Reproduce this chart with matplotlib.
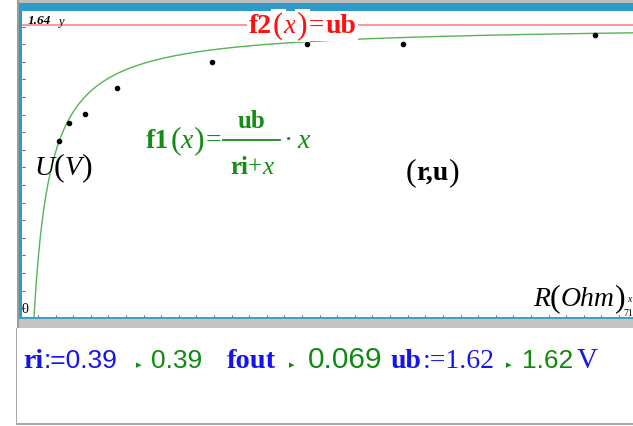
import numpy as np
import matplotlib
matplotlib.use("Agg")
import matplotlib.pyplot as plt
from matplotlib.patches import Rectangle
from matplotlib.lines import Line2D

# ---------------- data ----------------
r_ohm = [4.08, 5.09, 6.76, 10.1, 20.0, 30.0, 40.0, 60.0]
u_volt = [0.980, 1.078, 1.128, 1.273, 1.417, 1.517, 1.517, 1.566]
ub = 1.62
ri_value = 0.39
fout_value = 0.069
curve_ri = 1.73      # shape of plotted f1 curve as seen on screen
curve_x0 = 1.43
xmin, xmax = 0.125, 64.02
ymin, ymax = 0.0, 1.697
ymax_label = "1.64"
xmax_label = "71.5"
ymin_label = "0"
xtick_step = 1.84
ytick_start, ytick_step = 0.054, 0.0973

# ---------------- figure ----------------
W, H = 633, 426
fig = plt.figure(figsize=(W / 100, H / 100), dpi=100)
fig.patch.set_facecolor("white")
renderer = fig.canvas.get_renderer()

def fx(x):
    return x / W

def fy(y):
    return 1 - y / H

def rect(x0, y0, x1, y1, color, z=1):
    fig.patches.append(Rectangle((fx(x0), fy(y1)), (x1 - x0) / W, (y1 - y0) / H,
                                 transform=fig.transFigure, facecolor=color,
                                 edgecolor="none", zorder=z))

BLUE_BAR = "#2f9bc9"
rect(17, 0, 18.5, 328, "#9a9a9a")
rect(18.5, 0, 633, 3.3, "#bdbdbd")
rect(18.5, 3.3, 633, 11, BLUE_BAR)
rect(18.5, 3.3, 21.5, 318.5, BLUE_BAR)
rect(18.5, 317, 633, 319, "#3aa0cc")
rect(18.5, 319, 633, 328, "#c4c4c4")
rect(15.5, 328, 17, 424.5, "#a8a8a8")
rect(15.5, 423, 633, 424.5, "#a8a8a8")

# ---------------- axes ----------------
ax = fig.add_axes([fx(21.5), fy(318), (633 - 21.5) / W, (318 - 11) / H])
for s in ax.spines.values():
    s.set_visible(False)
ax.set_xticks(np.arange(1, 40) * xtick_step)
ax.set_yticks(np.arange(ytick_start, 1.62, ytick_step))
ax.tick_params(direction="in", length=2.5, width=0.8, color="#666666",
               labelbottom=False, labelleft=False)

ax.axhline(ub, color="#ff7a7a", lw=1.1, zorder=1)
xs = np.linspace(curve_x0, xmax + 1, 800)
ys = ub * (xs - curve_x0) / (curve_ri + xs - curve_x0)
ax.plot(xs, ys, color="#55b455", lw=1.0, zorder=2)
ax.plot(r_ohm, u_volt, "o", ms=3, color="black", zorder=3)
ax.set_xlim(xmin, xmax)
ax.set_ylim(ymin, ymax)

# ---------------- text helpers ----------------
SERIF = "Liberation Serif"
SANS = "Liberation Sans"

def runs(x, yb, items, align="left", bg=False):
    texts, widths = [], []
    for s, kw, g in items:
        extra = {}
        if bg:
            extra["bbox"] = dict(facecolor="white", edgecolor="none", pad=1.5)
        t = fig.text(0, fy(yb), s, ha="left", va="baseline", zorder=5, **kw, **extra)
        widths.append(t.get_window_extent(renderer).width + g)
        texts.append(t)
    total = sum(widths)
    if align == "center":
        x -= total / 2
    for t, w in zip(texts, widths):
        t.set_x(fx(x))
        x += w
    return x

def F(size, color, weight="normal", style="normal", family=SERIF):
    return dict(fontsize=size, color=color, fontweight=weight, fontstyle=style,
                family=family)

RED = "#ff1010"
GRN = "#168c16"
BLK = "black"

# f2(x)=ub
runs(249, 33, [("f2", F(20, RED, "bold"), 1),
               ("(", F(23, RED), 0),
               ("x", F(20, RED, style="italic"), 1),
               (")", F(23, RED), 1),
               ("=", F(20, RED), 1),
               ("ub", F(20, RED, "bold"), 0)], bg=True)

# f1(x)= ub/(ri+x) . x
xe = runs(146, 148, [("f1", F(20, GRN, "bold"), 1),
                     ("(", F(23, GRN), 0),
                     ("x", F(20, GRN, style="italic"), 1),
                     (")", F(23, GRN), 1),
                     ("=", F(20, GRN), 2)])
bar0, bar1 = xe, xe + 57
fig.lines.append(Line2D([fx(bar0), fx(bar1)], [fy(139.5), fy(139.5)],
                        transform=fig.transFigure, color=GRN, lw=1.3))
cx = (bar0 + bar1) / 2
runs(cx, 128, [("ub", F(18, GRN, "bold"), 0)], align="center")
runs(cx, 174, [("ri", F(18, GRN, "bold"), 0),
               ("+", F(18, GRN), 0),
               ("x", F(18, GRN, style="italic"), 0)], align="center")
runs(bar1 + 4, 148, [("·", F(20, GRN), 4), ("x", F(20, GRN, style="italic"), 0)])

# axis labels
runs(34, 175, [("U", F(20, BLK, style="italic"), 0),
               ("(", F(23, BLK), 0),
               ("V", F(20, BLK, style="italic"), 0),
               (")", F(23, BLK), 0)])
runs(406, 180, [("(", F(23, BLK), 0),
                ("r,u", F(20, BLK, "bold"), 0),
                (")", F(23, BLK), 0)])
runs(533, 306, [("R", F(20, BLK, style="italic"), 0),
                ("(", F(23, BLK), 0),
                ("Ohm", F(20, BLK, style="italic"), 0),
                (")", F(23, BLK), 0)])

# window labels
runs(28, 24.5, [(ymax_label, F(9.5, BLK, "bold", "italic"), 7),
                ("y", F(9, BLK, style="italic"), 0)])
runs(22, 313, [(ymin_label, F(10, BLK), 0)])
runs(623, 316, [(xmax_label[:3], F(7, BLK), 0)])
runs(627, 302, [("x", F(7, BLK, style="italic"), 0)])

# bottom calculator line
BLU = "#1414f0"
G2 = "#0f8a0f"
TRI = dict(fontsize=8, color=G2, family="DejaVu Sans")
yb = 368
runs(23, yb, [("ri", F(20, BLU, "bold"), 1),
              (f":={ri_value}", F(19, BLU, family=SANS), 0)])
runs(136, yb, [("▸", TRI, 0)])
runs(151, yb, [(f"{ri_value}", F(19, G2, family=SANS), 0)])
runs(227, yb, [("fout", F(20.5, BLU, "bold"), 0)])
runs(289, yb, [("▸", TRI, 0)])
runs(308, yb, [(f"{fout_value}", F(21.5, G2, family=SANS), 0)])
runs(391, yb, [("ub", F(20, BLU, "bold"), 1),
               (f":={ub}", F(20, BLU), 0)])
runs(506, yb, [("▸", TRI, 0)])
runs(522, yb, [(f"{ub}", F(19, G2, family=SANS), 3),
               ("V", F(21, BLU), 0)])

fig.savefig("out.png", dpi=100)
